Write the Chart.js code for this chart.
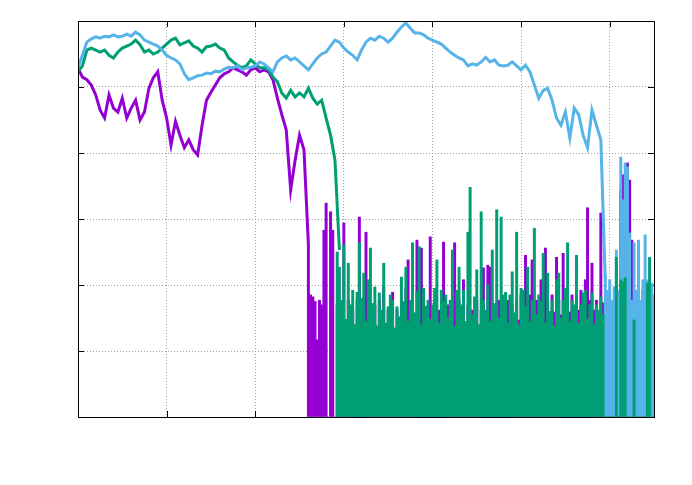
<!DOCTYPE html>
<html>
<head>
<meta charset="utf-8">
<script src="https://cdn.jsdelivr.net/npm/chart.js@4"></script>
<style>
  html, body { margin: 0; padding: 0; background: #fff; }
  canvas { display: block; }
</style>
</head>
<body>
<canvas id="chart" width="692" height="485"></canvas>
<script>
// readings taken off the plot, regular sampling in x
const topStep = 0.05;
const noiseStep = 0.025;

const blueTop = [
  5.29, 5.48, 5.68, 5.73, 5.76, 5.74, 5.77, 5.76, 5.79, 5.76,
  5.77, 5.80, 5.77, 5.83, 5.79, 5.71, 5.68, 5.65, 5.62, 5.56,
  5.48, 5.44, 5.41, 5.35, 5.20, 5.11, 5.14, 5.17, 5.18, 5.21,
  5.20, 5.24, 5.23, 5.27, 5.30, 5.29, 5.32, 5.26, 5.29, 5.30,
  5.32, 5.38, 5.35, 5.29, 5.23, 5.38, 5.44, 5.47, 5.41, 5.44,
  5.38, 5.32, 5.26, 5.35, 5.44, 5.50, 5.53, 5.62, 5.71, 5.68,
  5.59, 5.53, 5.48, 5.41, 5.56, 5.68, 5.74, 5.71, 5.77, 5.74,
  5.68, 5.74, 5.83, 5.91, 5.97, 5.89, 5.82, 5.82, 5.79, 5.74,
  5.71, 5.68, 5.65, 5.59, 5.53, 5.48, 5.44, 5.41, 5.32, 5.35,
  5.33, 5.38, 5.45, 5.38, 5.41, 5.33, 5.32, 5.33, 5.38, 5.32,
  5.26, 5.33, 5.23, 5.03, 4.83, 4.95, 4.98, 4.80, 4.53, 4.42,
  4.62, 4.23, 4.68, 4.58, 4.27, 4.08, 4.65, 4.42, 4.20, 2.08
];

const greenTop = [
  5.23, 5.32, 5.56, 5.59, 5.56, 5.53, 5.56, 5.48, 5.44, 5.53,
  5.59, 5.62, 5.65, 5.71, 5.64, 5.53, 5.56, 5.50, 5.53, 5.59,
  5.65, 5.71, 5.74, 5.64, 5.67, 5.70, 5.62, 5.59, 5.53, 5.61,
  5.62, 5.65, 5.59, 5.56, 5.44, 5.38, 5.33, 5.29, 5.32, 5.41,
  5.35, 5.29, 5.29, 5.26, 5.15, 5.08, 4.91, 4.83, 4.95, 4.85,
  4.91, 4.85, 4.98, 4.83, 4.74, 4.80, 4.53, 4.27, 3.89, 2.53
];

const purpleTop = [
  5.29, 5.15, 5.11, 5.03, 4.88, 4.65, 4.53, 4.88, 4.68, 4.62,
  4.83, 4.53, 4.68, 4.80, 4.50, 4.62, 4.98, 5.14, 5.23, 4.80,
  4.53, 4.12, 4.48, 4.27, 4.08, 4.20, 4.05, 3.97, 4.42, 4.80,
  4.92, 5.03, 5.14, 5.20, 5.23, 5.29, 5.26, 5.23, 5.18, 5.26,
  5.29, 5.23, 5.26, 5.23, 5.11, 4.83, 4.58, 4.35, 3.44, 3.89,
  4.27, 4.05, 2.61
];

const greenNoiseStart = 2.925;
const greenNoise = [
  2.50,
  2.27, 1.77, 2.61, 1.48, 2.33, 1.70, 1.92, 1.40, 1.89, 2.64,
  1.80, 2.18, 1.45, 2.08, 2.56, 1.72, 1.97, 1.38, 1.88, 1.62,
  2.33, 1.42, 1.67, 1.85, 1.77, 1.35, 1.67, 1.52, 2.12, 1.75,
  2.27, 1.45, 1.77, 2.64, 1.58, 1.90, 2.58, 1.40, 1.95, 1.68,
  1.77, 1.48, 1.70, 1.95, 2.38, 1.42, 1.92, 1.75, 1.85, 1.50,
  1.77, 2.53, 1.38, 1.92, 2.27, 1.70, 1.92, 1.45, 2.80, 3.48,
  1.55, 1.82, 2.23, 1.40, 3.11, 1.77, 1.62, 2.00, 1.45, 2.53,
  1.72, 3.14, 1.50, 3.03, 1.85, 1.89, 1.42, 1.85, 2.20, 1.58,
  2.80, 1.40, 1.95, 1.92, 1.68, 2.27, 1.45, 1.77, 2.86, 1.55,
  1.85, 1.75, 2.48, 1.42, 2.18, 1.60, 1.77, 1.38, 2.08, 2.18,
  1.50, 1.77, 1.95, 2.64, 1.45, 1.77, 1.70, 2.45, 1.42, 1.70,
  1.88, 1.92, 1.48, 1.70, 1.88, 1.40, 1.70, 1.62, 1.82, 1.55,
  0, 0, 0, 0, 0, 2.42, 0, 2.08, 2.05, 2.11,
  0, 0, 0, 1.47, 0, 0, 0, 0, 0, 2.03,
  2.42, 0, 0
];

const purpleNoiseStart = 2.60;
const purpleNoise = [
  2.61, 1.85, 1.82, 1.75, 1.17, 1.77, 1.70, 2.83, 3.24, 0,
  3.11, 2.83, 0, 1.70, 1.32, 1.62, 2.94, 1.32, 1.77, 1.32,
  1.62, 1.24, 1.77, 3.03, 1.47, 1.70, 2.80, 1.32, 1.62, 1.24,
  1.70, 1.32, 1.77, 1.32, 1.97, 1.32, 1.62, 1.24, 1.89, 1.32,
  1.62, 1.24, 1.77, 1.32, 1.95, 2.38, 1.32, 1.62, 1.32, 2.68,
  1.32, 2.56, 1.32, 1.62, 1.24, 2.73, 1.32, 1.77, 1.32, 1.62,
  1.24, 2.65, 1.32, 1.70, 1.32, 1.62, 2.64, 1.32, 1.77, 1.32,
  2.08, 1.32, 1.70, 1.32, 1.62, 1.24, 1.77, 1.32, 1.62, 2.26,
  1.47, 2.30, 2.27, 1.32, 1.70, 1.32, 1.77, 1.32, 1.62, 1.32,
  1.77, 1.32, 1.70, 1.32, 1.77, 1.47, 1.85, 1.62, 2.45, 1.55,
  1.85, 2.38, 1.50, 1.77, 1.55, 2.08, 1.62, 2.56, 1.70, 1.47,
  1.85, 1.59, 2.42, 1.77, 1.55, 2.48, 1.70, 1.92, 1.59, 1.85,
  1.55, 1.82, 1.62, 1.92, 1.55, 2.08, 3.17, 1.77, 2.33, 1.62,
  1.77, 1.55, 3.09, 1.73, 1.47, 1.77, 1.62, 1.32, 1.17, 1.47,
  1.32, 3.44, 3.67, 3.14, 3.85, 3.59, 2.68, 1.77, 1.47, 1.77,
  1.62, 1.92, 1.32, 1.62, 1.47, 1.77, 1.62
];

const blueNoiseStart = 5.95;
const blueNoise = [
  2.15, 1.92, 2.08, 1.77, 1.97, 2.53, 1.92, 3.94, 3.29, 3.85,
  3.79, 2.79, 1.77, 2.64, 1.92, 2.68, 1.77, 2.08, 2.76, 2.08,
  1.77, 2.03, 1.85
];

const purple = "rgb(148, 0, 211)";
const green = "rgb(0, 158, 115)";
const blue = "rgb(86, 180, 233)";

function points(start, step, values) {
    const out = [];
    for (let i = 0; i < values.length; ++i) {
        out.push({ x: start + i * step, y: values[i] });
    }
    return out;
}

function lineSet(data, colour, order) {
    return {
        type: "line",
        data,
        borderColor: colour,
        borderWidth: 3,
        pointRadius: 0,
        tension: 0,
        fill: false,
        order
    };
}

// the fast oscillating part looks like a comb of thin columns
function combSet(data, colour, order) {
    return {
        type: "bar",
        data,
        backgroundColor: colour,
        borderWidth: 0,
        barThickness: 2.3,
        grouped: false,
        order
    };
}

// gnuplot style frame: inward ticks on all four sides, black border
const frame = {
    id: "frame",
    beforeDatasetsDraw(chart) {
        const { ctx, chartArea: a, scales } = chart;
        const len = 6;
        ctx.save();
        ctx.strokeStyle = "#000";
        ctx.lineWidth = 1;
        ctx.beginPath();
        for (const t of scales.x.ticks) {
            if (t.value <= scales.x.min || t.value >= scales.x.max) continue;
            const px = Math.round(scales.x.getPixelForValue(t.value)) + 0.5;
            ctx.moveTo(px, a.bottom);
            ctx.lineTo(px, a.bottom - len);
            ctx.moveTo(px, a.top);
            ctx.lineTo(px, a.top + len);
        }
        for (const t of scales.y.ticks) {
            if (t.value <= scales.y.min || t.value >= scales.y.max) continue;
            const py = Math.round(scales.y.getPixelForValue(t.value)) + 0.5;
            ctx.moveTo(a.left, py);
            ctx.lineTo(a.left + len, py);
            ctx.moveTo(a.right, py);
            ctx.lineTo(a.right - len, py);
        }
        ctx.stroke();
        ctx.restore();
    },
    afterDatasetsDraw(chart) {
        const { ctx, chartArea: a } = chart;
        ctx.save();
        ctx.strokeStyle = "#000";
        ctx.lineWidth = 1;
        ctx.strokeRect(Math.round(a.left) + 0.5, Math.round(a.top) + 0.5,
            Math.round(a.right - a.left), Math.round(a.bottom - a.top));
        ctx.restore();
    }
};

const gridOpts = {
    color: "rgba(150, 150, 150, 0.9)",
    lineWidth: 1,
    drawTicks: false,
    offset: false
};

const config = {
    type: "line",
    data: {
        datasets: [
            combSet(points(purpleNoiseStart, noiseStep, purpleNoise), purple, 7),
            lineSet(points(0, topStep, purpleTop), purple, 6),
            combSet(points(blueNoiseStart, noiseStep, blueNoise), blue, 5),
            combSet(points(greenNoiseStart, noiseStep, greenNoise), green, 4),
            lineSet(points(0, topStep, greenTop), green, 3),
            lineSet(points(0, topStep, blueTop), blue, 1)
        ]
    },
    options: {
        responsive: false,
        animation: false,
        devicePixelRatio: 1,
        layout: { padding: { left: 78, right: 38, top: 21, bottom: 68 } },
        plugins: { legend: { display: false }, tooltip: { enabled: false } },
        scales: {
            x: {
                type: "linear",
                min: 0,
                max: 6.5,
                offset: false,
                ticks: { display: false, stepSize: 1 },
                grid: gridOpts,
                border: { display: false, dash: [1, 2] }
            },
            y: {
                type: "linear",
                min: 0,
                max: 6,
                ticks: { display: false, stepSize: 1 },
                grid: gridOpts,
                border: { display: false, dash: [1, 2] }
            }
        }
    },
    plugins: [frame]
};

new Chart(document.getElementById("chart"), config);
</script>
</body>
</html>
